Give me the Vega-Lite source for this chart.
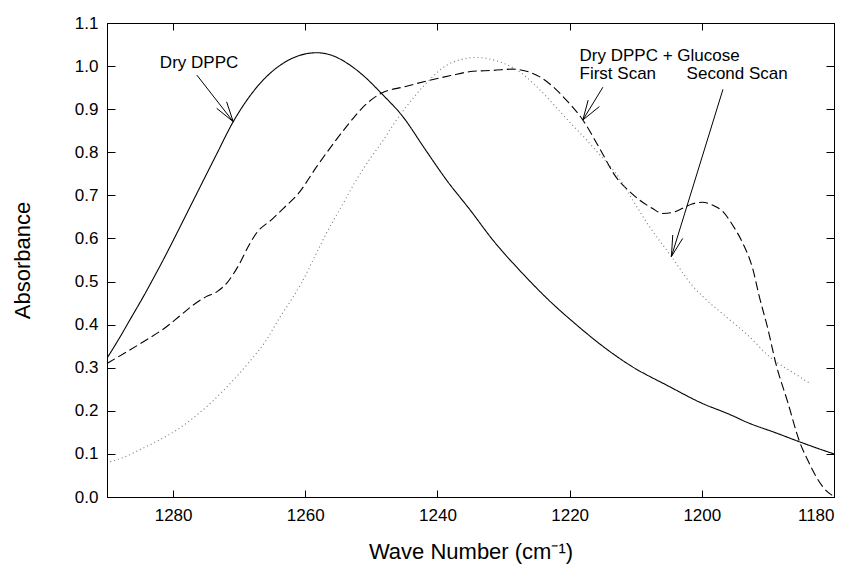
{
  "$schema": "https://vega.github.io/schema/vega-lite/v6.json",
  "width": 727,
  "height": 474,
  "autosize": {"type": "none"},
  "padding": {"left": 107, "top": 23, "right": 21, "bottom": 69},
  "background": "white",
  "config": {
    "font": "Liberation Sans",
    "view": {"stroke": "black", "strokeWidth": 1},
    "axis": {
      "domainColor": "black",
      "tickColor": "black",
      "labelColor": "black",
      "titleColor": "black",
      "labelFontSize": 17,
      "titleFontSize": 22,
      "titleFontWeight": "normal",
      "grid": false
    }
  },
  "datasets": {
    "curves": [
      {"series": "Dry DPPC", "wn": 1290, "abs": 0.322},
      {"series": "Dry DPPC", "wn": 1288, "abs": 0.372},
      {"series": "Dry DPPC", "wn": 1286.5, "abs": 0.412},
      {"series": "Dry DPPC", "wn": 1284.5, "abs": 0.465},
      {"series": "Dry DPPC", "wn": 1283, "abs": 0.507},
      {"series": "Dry DPPC", "wn": 1281.5, "abs": 0.55},
      {"series": "Dry DPPC", "wn": 1279.5, "abs": 0.61},
      {"series": "Dry DPPC", "wn": 1277.7, "abs": 0.665},
      {"series": "Dry DPPC", "wn": 1275.9, "abs": 0.72},
      {"series": "Dry DPPC", "wn": 1273.5, "abs": 0.793},
      {"series": "Dry DPPC", "wn": 1270.9, "abs": 0.871},
      {"series": "Dry DPPC", "wn": 1268.5, "abs": 0.928},
      {"series": "Dry DPPC", "wn": 1265.9, "abs": 0.975},
      {"series": "Dry DPPC", "wn": 1263.5, "abs": 1.005},
      {"series": "Dry DPPC", "wn": 1260.8, "abs": 1.025},
      {"series": "Dry DPPC", "wn": 1258.3, "abs": 1.031},
      {"series": "Dry DPPC", "wn": 1256, "abs": 1.025},
      {"series": "Dry DPPC", "wn": 1253.5, "abs": 1.005},
      {"series": "Dry DPPC", "wn": 1251, "abs": 0.975},
      {"series": "Dry DPPC", "wn": 1248.5, "abs": 0.937},
      {"series": "Dry DPPC", "wn": 1245.2, "abs": 0.882},
      {"series": "Dry DPPC", "wn": 1242, "abs": 0.81},
      {"series": "Dry DPPC", "wn": 1238.6, "abs": 0.735},
      {"series": "Dry DPPC", "wn": 1235, "abs": 0.665},
      {"series": "Dry DPPC", "wn": 1231.6, "abs": 0.596},
      {"series": "Dry DPPC", "wn": 1227.5, "abs": 0.525},
      {"series": "Dry DPPC", "wn": 1223.3, "abs": 0.459},
      {"series": "Dry DPPC", "wn": 1219, "abs": 0.4},
      {"series": "Dry DPPC", "wn": 1215, "abs": 0.35},
      {"series": "Dry DPPC", "wn": 1210.9, "abs": 0.306},
      {"series": "Dry DPPC", "wn": 1205, "abs": 0.257},
      {"series": "Dry DPPC", "wn": 1199.9, "abs": 0.217},
      {"series": "Dry DPPC", "wn": 1196, "abs": 0.193},
      {"series": "Dry DPPC", "wn": 1192.8, "abs": 0.171},
      {"series": "Dry DPPC", "wn": 1189, "abs": 0.15},
      {"series": "Dry DPPC", "wn": 1185.2, "abs": 0.128},
      {"series": "Dry DPPC", "wn": 1182.5, "abs": 0.113},
      {"series": "Dry DPPC", "wn": 1180, "abs": 0.1},

      {"series": "First Scan", "wn": 1290, "abs": 0.31},
      {"series": "First Scan", "wn": 1287, "abs": 0.337},
      {"series": "First Scan", "wn": 1284, "abs": 0.365},
      {"series": "First Scan", "wn": 1281, "abs": 0.395},
      {"series": "First Scan", "wn": 1279, "abs": 0.42},
      {"series": "First Scan", "wn": 1277, "abs": 0.445},
      {"series": "First Scan", "wn": 1275, "abs": 0.465},
      {"series": "First Scan", "wn": 1273.4, "abs": 0.476},
      {"series": "First Scan", "wn": 1271.9, "abs": 0.496},
      {"series": "First Scan", "wn": 1270, "abs": 0.54},
      {"series": "First Scan", "wn": 1268.5, "abs": 0.585},
      {"series": "First Scan", "wn": 1267.4, "abs": 0.612},
      {"series": "First Scan", "wn": 1265, "abs": 0.645},
      {"series": "First Scan", "wn": 1263.3, "abs": 0.67},
      {"series": "First Scan", "wn": 1261, "abs": 0.705},
      {"series": "First Scan", "wn": 1258.3, "abs": 0.766},
      {"series": "First Scan", "wn": 1256, "abs": 0.815},
      {"series": "First Scan", "wn": 1253.8, "abs": 0.859},
      {"series": "First Scan", "wn": 1250.7, "abs": 0.913},
      {"series": "First Scan", "wn": 1248.5, "abs": 0.937},
      {"series": "First Scan", "wn": 1245, "abs": 0.952},
      {"series": "First Scan", "wn": 1241.2, "abs": 0.967},
      {"series": "First Scan", "wn": 1238, "abs": 0.978},
      {"series": "First Scan", "wn": 1234.6, "abs": 0.988},
      {"series": "First Scan", "wn": 1231.5, "abs": 0.99},
      {"series": "First Scan", "wn": 1228.6, "abs": 0.993},
      {"series": "First Scan", "wn": 1226.5, "abs": 0.988},
      {"series": "First Scan", "wn": 1224.5, "abs": 0.975},
      {"series": "First Scan", "wn": 1222.5, "abs": 0.952},
      {"series": "First Scan", "wn": 1220.5, "abs": 0.921},
      {"series": "First Scan", "wn": 1218, "abs": 0.875},
      {"series": "First Scan", "wn": 1215.5, "abs": 0.81},
      {"series": "First Scan", "wn": 1213, "abs": 0.743},
      {"series": "First Scan", "wn": 1211, "abs": 0.71},
      {"series": "First Scan", "wn": 1209.4, "abs": 0.689},
      {"series": "First Scan", "wn": 1207.5, "abs": 0.67},
      {"series": "First Scan", "wn": 1205.9, "abs": 0.658},
      {"series": "First Scan", "wn": 1204.5, "abs": 0.66},
      {"series": "First Scan", "wn": 1202.9, "abs": 0.67},
      {"series": "First Scan", "wn": 1201.5, "abs": 0.68},
      {"series": "First Scan", "wn": 1199.9, "abs": 0.684},
      {"series": "First Scan", "wn": 1198.3, "abs": 0.677},
      {"series": "First Scan", "wn": 1196.8, "abs": 0.662},
      {"series": "First Scan", "wn": 1195.3, "abs": 0.63},
      {"series": "First Scan", "wn": 1193.8, "abs": 0.589},
      {"series": "First Scan", "wn": 1192.3, "abs": 0.53},
      {"series": "First Scan", "wn": 1191.3, "abs": 0.465},
      {"series": "First Scan", "wn": 1190, "abs": 0.39},
      {"series": "First Scan", "wn": 1188.8, "abs": 0.31},
      {"series": "First Scan", "wn": 1187, "abs": 0.22},
      {"series": "First Scan", "wn": 1185.2, "abs": 0.128},
      {"series": "First Scan", "wn": 1183.8, "abs": 0.08},
      {"series": "First Scan", "wn": 1182.7, "abs": 0.047},
      {"series": "First Scan", "wn": 1181.5, "abs": 0.02},
      {"series": "First Scan", "wn": 1180.2, "abs": 0.003},

      {"series": "Second Scan", "wn": 1289.5, "abs": 0.082},
      {"series": "Second Scan", "wn": 1287, "abs": 0.095},
      {"series": "Second Scan", "wn": 1285, "abs": 0.11},
      {"series": "Second Scan", "wn": 1283, "abs": 0.125},
      {"series": "Second Scan", "wn": 1279.5, "abs": 0.155},
      {"series": "Second Scan", "wn": 1277, "abs": 0.183},
      {"series": "Second Scan", "wn": 1274.4, "abs": 0.217},
      {"series": "Second Scan", "wn": 1270.9, "abs": 0.271},
      {"series": "Second Scan", "wn": 1268.5, "abs": 0.313},
      {"series": "Second Scan", "wn": 1265.9, "abs": 0.364},
      {"series": "Second Scan", "wn": 1263.8, "abs": 0.418},
      {"series": "Second Scan", "wn": 1261.8, "abs": 0.465},
      {"series": "Second Scan", "wn": 1260.6, "abs": 0.496},
      {"series": "Second Scan", "wn": 1258.5, "abs": 0.56},
      {"series": "Second Scan", "wn": 1256.8, "abs": 0.612},
      {"series": "Second Scan", "wn": 1254.5, "abs": 0.675},
      {"series": "Second Scan", "wn": 1252.3, "abs": 0.735},
      {"series": "Second Scan", "wn": 1250.2, "abs": 0.785},
      {"series": "Second Scan", "wn": 1248.2, "abs": 0.828},
      {"series": "Second Scan", "wn": 1246.5, "abs": 0.868},
      {"series": "Second Scan", "wn": 1244.7, "abs": 0.906},
      {"series": "Second Scan", "wn": 1241.7, "abs": 0.96},
      {"series": "Second Scan", "wn": 1238.6, "abs": 1.002},
      {"series": "Second Scan", "wn": 1236.5, "abs": 1.015},
      {"series": "Second Scan", "wn": 1234.1, "abs": 1.02},
      {"series": "Second Scan", "wn": 1232.3, "abs": 1.017},
      {"series": "Second Scan", "wn": 1230.6, "abs": 1.01},
      {"series": "Second Scan", "wn": 1227.6, "abs": 0.987},
      {"series": "Second Scan", "wn": 1225.5, "abs": 0.96},
      {"series": "Second Scan", "wn": 1223.5, "abs": 0.929},
      {"series": "Second Scan", "wn": 1221.5, "abs": 0.895},
      {"series": "Second Scan", "wn": 1219.5, "abs": 0.862},
      {"series": "Second Scan", "wn": 1218, "abs": 0.838},
      {"series": "Second Scan", "wn": 1215.5, "abs": 0.795},
      {"series": "Second Scan", "wn": 1213, "abs": 0.751},
      {"series": "Second Scan", "wn": 1210.5, "abs": 0.69},
      {"series": "Second Scan", "wn": 1207.9, "abs": 0.627},
      {"series": "Second Scan", "wn": 1204.6, "abs": 0.558},
      {"series": "Second Scan", "wn": 1201.4, "abs": 0.49},
      {"series": "Second Scan", "wn": 1199.9, "abs": 0.466},
      {"series": "Second Scan", "wn": 1196.3, "abs": 0.418},
      {"series": "Second Scan", "wn": 1192.8, "abs": 0.372},
      {"series": "Second Scan", "wn": 1189.8, "abs": 0.326},
      {"series": "Second Scan", "wn": 1185.2, "abs": 0.279},
      {"series": "Second Scan", "wn": 1183.7, "abs": 0.264}
    ],
    "arrows": [
      {"part": "a1", "x1": 1276.4, "y1": 0.979, "x2": 1270.9, "y2": 0.871},
      {"part": "a1b1", "x1": 1270.9, "y1": 0.871, "x2": 1273.4, "y2": 0.902},
      {"part": "a1b2", "x1": 1270.9, "y1": 0.871, "x2": 1271.9, "y2": 0.917},
      {"part": "a2", "x1": 1214.97, "y1": 0.951, "x2": 1218, "y2": 0.875},
      {"part": "a2b1", "x1": 1218, "y1": 0.875, "x2": 1217.2, "y2": 0.921},
      {"part": "a2b2", "x1": 1218, "y1": 0.875, "x2": 1215.5, "y2": 0.906},
      {"part": "a3", "x1": 1196.8, "y1": 0.946, "x2": 1204.6, "y2": 0.558},
      {"part": "a3b1", "x1": 1204.6, "y1": 0.558, "x2": 1204.4, "y2": 0.608},
      {"part": "a3b2", "x1": 1204.6, "y1": 0.558, "x2": 1202.9, "y2": 0.6}
    ],
    "labels": [
      {"label": "Dry DPPC", "wn": 1282.0, "abs": 0.995},
      {"label": "Dry DPPC + Glucose", "wn": 1218.5, "abs": 1.011},
      {"label": "First Scan", "wn": 1218.5, "abs": 0.97},
      {"label": "Second Scan", "wn": 1202.3, "abs": 0.97}
    ]
  },
  "layer": [
    {
      "data": {"name": "curves"},
      "mark": {"type": "line", "strokeWidth": 1.1, "clip": true, "interpolate": "monotone"},
      "encoding": {
        "x": {
          "field": "wn", "type": "quantitative",
          "scale": {"domain": [1180, 1290], "reverse": true, "nice": false, "zero": false},
          "axis": {
            "orient": "bottom", "values": [1280, 1260, 1240, 1220, 1200, 1180],
            "format": "d", "tickSize": -7, "labelPadding": 17,
            "title": "Wave Number (cm⁻¹)", "titlePadding": 18
          }
        },
        "y": {
          "field": "abs", "type": "quantitative",
          "scale": {"domain": [0, 1.1], "nice": false, "zero": false},
          "axis": {
            "orient": "left", "values": [0, 0.1, 0.2, 0.3, 0.4, 0.5, 0.6, 0.7, 0.8, 0.9, 1.0, 1.1],
            "format": ".1f", "tickSize": -8, "labelPadding": 17,
            "title": "Absorbance", "titlePadding": 40
          }
        },
        "detail": {"field": "series"},
        "color": {
          "field": "series", "type": "nominal",
          "scale": {"domain": ["Dry DPPC", "First Scan", "Second Scan"], "range": ["#000000", "#000000", "#777777"]},
          "legend": null
        },
        "strokeDash": {
          "field": "series", "type": "nominal",
          "scale": {"domain": ["Dry DPPC", "First Scan", "Second Scan"], "range": [[1, 0], [9, 4], [1, 3]]},
          "legend": null
        }
      }
    },
    {
      "data": {"name": "arrows"},
      "mark": {"type": "rule", "color": "black", "strokeWidth": 1},
      "encoding": {
        "x": {
          "field": "x1", "type": "quantitative",
          "scale": {"domain": [1180, 1290], "reverse": true, "nice": false, "zero": false},
          "axis": {"orient": "top", "values": [1280, 1260, 1240, 1220, 1200, 1180], "labels": false, "tickSize": -7, "title": null}
        },
        "y": {
          "field": "y1", "type": "quantitative",
          "scale": {"domain": [0, 1.1], "nice": false, "zero": false},
          "axis": {"orient": "right", "values": [0, 0.1, 0.2, 0.3, 0.4, 0.5, 0.6, 0.7, 0.8, 0.9, 1.0, 1.1], "labels": false, "tickSize": -8, "title": null}
        },
        "x2": {"field": "x2"},
        "y2": {"field": "y2"}
      }
    },
    {
      "data": {"name": "labels"},
      "mark": {"type": "text", "align": "left", "baseline": "alphabetic", "fontSize": 17, "color": "black"},
      "encoding": {
        "x": {"field": "wn", "type": "quantitative", "axis": null},
        "y": {"field": "abs", "type": "quantitative", "axis": null},
        "text": {"field": "label"}
      }
    }
  ],
  "resolve": {"axis": {"x": "independent", "y": "independent"}}
}
